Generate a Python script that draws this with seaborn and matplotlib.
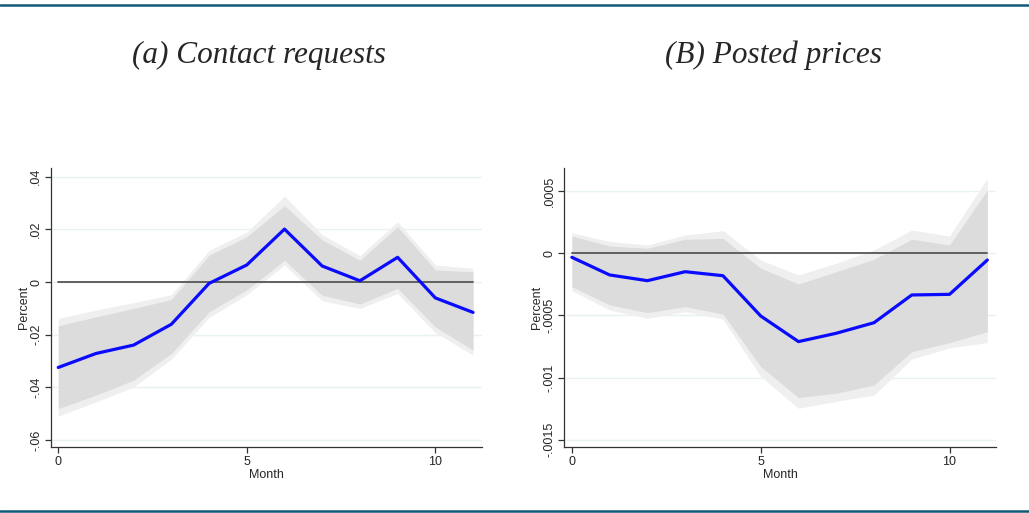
import numpy as np
import pandas as pd
import matplotlib
matplotlib.use("Agg")
import matplotlib.pyplot as plt
import seaborn as sns

# Event-study estimates by month with 90% (inner) and 95% (outer) confidence bands
months = list(range(12))

contact_est = [-0.0324, -0.0271, -0.0239, -0.0160, -0.0005, 0.0065,
               0.0201, 0.0061, 0.0005, 0.0094, -0.0060, -0.0115]
contact_lo90 = [-0.0480, -0.0429, -0.0372, -0.0271, -0.0113, -0.0030,
                0.0083, -0.0050, -0.0083, -0.0024, -0.0170, -0.0258]
contact_hi90 = [-0.0166, -0.0132, -0.0100, -0.0066, 0.0102, 0.0172,
                0.0290, 0.0160, 0.0083, 0.0210, 0.0046, 0.0039]
contact_lo95 = [-0.0509, -0.0455, -0.0398, -0.0292, -0.0134, -0.0048,
                0.0065, -0.0071, -0.0100, -0.0043, -0.0192, -0.0277]
contact_hi95 = [-0.0138, -0.0106, -0.0078, -0.0048, 0.0120, 0.0190,
                0.0326, 0.0180, 0.0100, 0.0229, 0.0065, 0.0052]

price_est = [-0.000032, -0.000174, -0.000220, -0.000148, -0.000180, -0.000504,
             -0.000710, -0.000643, -0.000558, -0.000335, -0.000330, -0.000054]
price_lo90 = [-0.000268, -0.000415, -0.000477, -0.000429, -0.000488, -0.000911,
              -0.001160, -0.001125, -0.001059, -0.000791, -0.000718, -0.000630]
price_hi90 = [0.000139, 0.000059, 0.000040, 0.000113, 0.000120, -0.000120,
              -0.000247, -0.000148, -0.000048, 0.000113, 0.000067, 0.000509]
price_lo95 = [-0.000300, -0.000456, -0.000523, -0.000469, -0.000530, -0.000990,
              -0.001246, -0.001190, -0.001140, -0.000850, -0.000760, -0.000718]
price_hi95 = [0.000166, 0.000094, 0.000067, 0.000147, 0.000182, -0.000054,
              -0.000174, -0.000080, 0.000027, 0.000187, 0.000139, 0.000603]

contact_yticks = [-0.06, -0.04, -0.02, 0.0, 0.02, 0.04]
contact_yticklabels = ["-.06", "-.04", "-.02", "0", ".02", ".04"]
price_yticks = [-0.0015, -0.001, -0.0005, 0.0, 0.0005]
price_yticklabels = ["-.0015", "-.001", "-.0005", "0", ".0005"]
xticks = [0, 5, 10]

titles = ["(a) Contact requests", "(B) Posted prices"]

sns.set_theme(style="white")
plt.rcParams["font.family"] = ["Liberation Sans", "DejaVu Sans"]

fig = plt.figure(figsize=(10.29, 5.13), dpi=100)

W, H = 1029.0, 513.0
def axes_at(x0, x1, y_top, y_bot):
    return fig.add_axes([x0 / W, 1 - y_bot / H, (x1 - x0) / W, (y_bot - y_top) / H])

ax_l = axes_at(50.7, 481.7, 168, 447.3)
ax_r = axes_at(564.3, 996, 168, 447.3)

panels = [
    (ax_l, contact_est, contact_lo90, contact_hi90, contact_lo95, contact_hi95,
     contact_yticks, contact_yticklabels, (-0.0627, 0.0433)),
    (ax_r, price_est, price_lo90, price_hi90, price_lo95, price_hi95,
     price_yticks, price_yticklabels, (-0.00156, 0.000686)),
]

for ax, est, lo90, hi90, lo95, hi95, yt, ytl, ylim in panels:
    df = pd.DataFrame({"Month": months, "Percent": est})
    ax.fill_between(months, lo95, hi95, color="#efefef", lw=0, zorder=1)
    ax.fill_between(months, lo90, hi90, color="#dcdcdc", lw=0, zorder=2)
    zero = pd.DataFrame({"Month": [months[0], months[-1]], "Percent": [0, 0]})
    sns.lineplot(data=zero, x="Month", y="Percent", ax=ax, color="#555555",
                 lw=1.3, zorder=3)
    sns.lineplot(data=df, x="Month", y="Percent", ax=ax, color="#0a0aff",
                 lw=2.3, zorder=4)
    ax.set_xlim(-0.2, 11.23)
    ax.set_ylim(*ylim)
    ax.set_yticks(yt)
    ax.set_yticklabels(ytl, rotation=90, va="center")
    ax.set_xticks(xticks)
    ax.set_xticklabels([str(t) for t in xticks])
    for y in yt:
        ax.axhline(y, color="#e9f2f3", lw=1.0, zorder=0)
    ax.tick_params(axis="both", direction="out", length=4, width=0.9,
                   color="#333333", labelsize=9, pad=2, left=True, bottom=True)
    for side in ["top", "right"]:
        ax.spines[side].set_visible(False)
    for side in ["left", "bottom"]:
        ax.spines[side].set_color("#333333")
        ax.spines[side].set_linewidth(0.9)
    ax.set_xlabel("Month", fontsize=9, labelpad=1)
    ax.set_ylabel("Percent", fontsize=9, labelpad=0.5)
    ax.set_facecolor("white")

fig.text(259 / W, 1 - 55.5 / H, titles[0], ha="center", va="center",
         family="Liberation Serif", style="italic", fontsize=22.5)
fig.text(773 / W, 1 - 55.5 / H, titles[1], ha="center", va="center",
         family="Liberation Serif", style="italic", fontsize=22.5)

# Rule lines framing the figure
for yy in [4.5, 510.5]:
    fig.add_artist(plt.Line2D([0, 1], [1 - yy / H, 1 - yy / H],
                              transform=fig.transFigure, color="#0e5a78", lw=1.8))

fig.savefig("out.png", dpi=100, facecolor="white")
